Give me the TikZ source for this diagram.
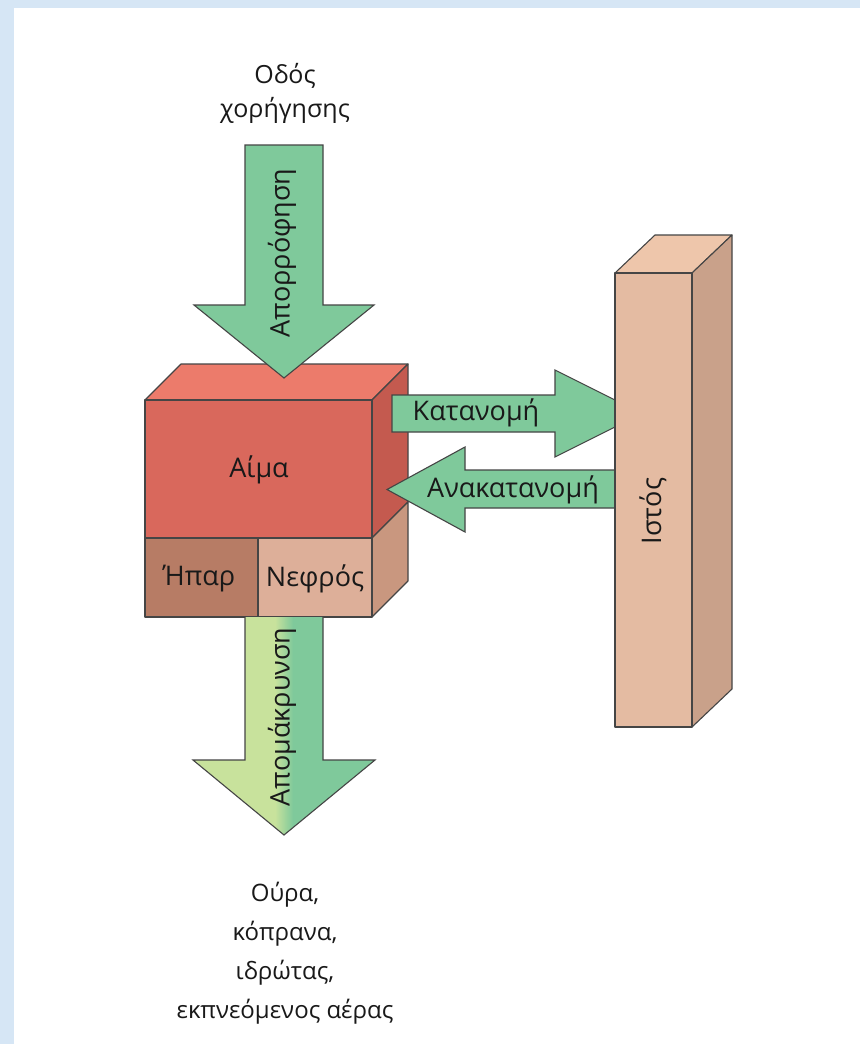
\documentclass[tikz,border=0pt]{standalone}
\usepackage{fontspec}
\setmainfont{Open Sans}
\definecolor{bgblue}{HTML}{D6E6F5}
\definecolor{arrgreen}{HTML}{7FC99B}
\definecolor{arrlight}{HTML}{C8E29C}
\definecolor{bloodfront}{HTML}{D9685C}
\definecolor{bloodtop}{HTML}{EC7B6B}
\definecolor{bloodside}{HTML}{C45A4F}
\definecolor{liver}{HTML}{B77C65}
\definecolor{kidney}{HTML}{DDAF99}
\definecolor{lowside}{HTML}{C9977F}
\definecolor{tisfront}{HTML}{E4BBA2}
\definecolor{tistop}{HTML}{EEC6AB}
\definecolor{tisside}{HTML}{C9A18A}
\definecolor{edge}{HTML}{454545}
\tikzset{
  face/.style={draw=edge, line width=1.1pt, line join=round},
  blockarrow/.style={draw=edge, line width=1.1pt, fill=arrgreen, line join=miter},
  lbl/.style={font=\fontsize{27}{32}\selectfont, text=black!90, inner sep=0pt},
  txt/.style={font=\fontsize{25}{34}\selectfont, text=black!90, inner sep=0pt, align=center},
}
\begin{document}
\begin{tikzpicture}[x=1pt,y=-1pt]
\useasboundingbox (0,0) rectangle (860,1044);
\fill[bgblue] (0,0) rectangle (860,1044);
\fill[white] (14,8) rectangle (860,1044);

% ---- blood / organ box ----
\path[face, fill=bloodtop] (145,400) -- (181,364) -- (408,364) -- (372,400) -- cycle;
\path[face, fill=bloodside] (372,400) -- (408,364) -- (408,502) -- (372,538) -- cycle;
\path[face, fill=lowside] (372,538) -- (408,502) -- (408,581) -- (372,617) -- cycle;
\path[face, fill=bloodfront] (145,400) rectangle (372,538);
\path[face, fill=liver] (145,538) rectangle (258,617);
\path[face, fill=kidney] (258,538) rectangle (372,617);
\node[lbl] (aima) at (259,470) {Αίμα};
\node[lbl] (ipar) at (199,579) {Ήπαρ};
\node[lbl] (nefros) at (315,579) {Νεφρός};

% ---- top arrow ----
\path[blockarrow] (245,145) -- (323,145) -- (323,305) -- (374,305) -- (284,378)
  -- (194,305) -- (245,305) -- cycle;
\node[lbl, rotate=90] (apor) at (282,253) {Απορρόφηση};

% ---- bottom arrow ----
\begin{scope}
  \clip (245,617) -- (323,617) -- (323,760) -- (375,760) -- (284,835)
    -- (193,760) -- (245,760) -- cycle;
  \fill[arrlight] (180,600) rectangle (276,850);
  \fill[arrgreen] (292,600) rectangle (390,850);
  \shade[left color=arrlight, right color=arrgreen] (275,600) rectangle (293,850);
\end{scope}
\draw[edge, line width=1.1pt, line join=miter] (245,617) -- (245,760) -- (193,760)
  -- (284,835) -- (375,760) -- (323,760) -- (323,617);
\node[lbl, rotate=90] (apom) at (282,717) {Απομάκρυνση};

% ---- horizontal arrows ----
\path[blockarrow] (392,395) -- (555,395) -- (555,370) -- (642,413.5) -- (555,457)
  -- (555,432) -- (392,432) -- cycle;
\node[lbl] (katan) at (476,413) {Κατανομή};
\path[blockarrow] (640,470) -- (465,470) -- (465,447) -- (387,489.5) -- (465,532)
  -- (465,508) -- (640,508) -- cycle;
\node[lbl] (anakat) at (513,490) {Ανακατανομή};

% ---- tissue column ----
\path[face, fill=tistop] (615,273) -- (655,235) -- (732,235) -- (692,273) -- cycle;
\path[face, fill=tisside] (692,273) -- (732,235) -- (732,689) -- (692,727) -- cycle;
\path[face, fill=tisfront] (615,273) rectangle (692,727);
\node[lbl, rotate=90] (istos) at (653,511) {Ιστός};

% ---- texts ----
\node[txt] (odos) at (285,93) {Οδός\\χορήγησης};
\node[txt, font=\fontsize{24}{38.8}\selectfont] (exit) at (285,953)
  {Ούρα,\\κόπρανα,\\ιδρώτας,\\εκπνεόμενος αέρας};
\end{tikzpicture}
\end{document}
